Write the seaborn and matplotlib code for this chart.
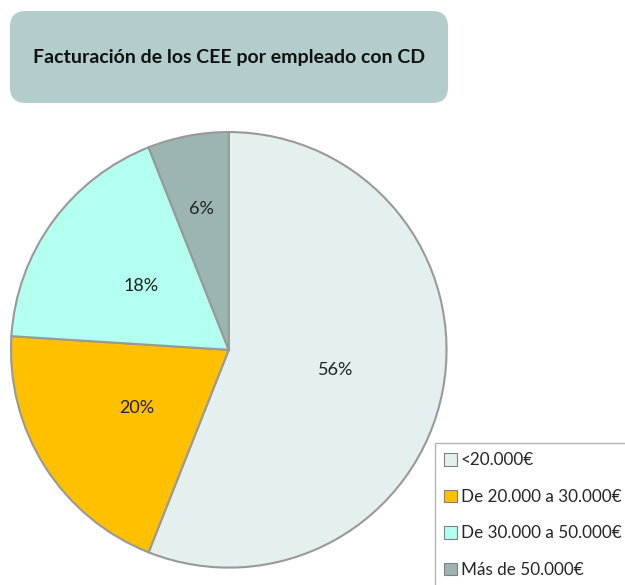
import matplotlib
matplotlib.use("Agg")
import matplotlib.pyplot as plt
from matplotlib.patches import FancyBboxPatch, Patch
import seaborn as sns
import numpy as np

categories = ["<20.000€", "De 20.000 a 30.000€", "De 30.000 a 50.000€", "Más de 50.000€"]
values = [56, 20, 18, 6]
colors = ["#e4f0ef", "#ffc000", "#b3fff0", "#9bb5b3"]
title = "Facturación de los CEE por empleado con CD"

sns.set_theme(style="white")
plt.rcParams['font.family'] = ['Lato', 'DejaVu Sans']

fig = plt.figure(figsize=(6.25, 5.85), dpi=100)
W, H = 625, 585

# Title box
box = FancyBboxPatch((10 / W, 1 - 103 / H), 438 / W, 92 / H,
                     boxstyle="round,pad=0,rounding_size=0.025",
                     transform=fig.transFigure, facecolor="#b3cdcc",
                     edgecolor="none", mutation_aspect=W / H)
fig.patches.append(box)
fig.text(229 / W, 1 - 58 / H, title, ha="center", va="center",
         fontsize=14, fontweight="bold", color="#111111")

ax = fig.add_axes([0.014, 0.026, 0.704, 0.752])
wedges, texts, autotexts = ax.pie(
    values, colors=colors, startangle=90, counterclock=False,
    autopct=lambda p: f"{p:.0f}%", pctdistance=0.5,
    wedgeprops=dict(edgecolor="#999999", linewidth=1.5),
    textprops=dict(fontsize=13, color="#222222"))
# small slice label further out
w = wedges[3]
mid = np.deg2rad((w.theta1 + w.theta2) / 2)
autotexts[3].set_position((0.66 * np.cos(mid), 0.66 * np.sin(mid)))
ax.set_xlim(-1.01, 1.01)
ax.set_ylim(-1.01, 1.01)
ax.set_aspect("equal")
ax.axis("off")

handles = [Patch(facecolor=c, edgecolor="#808080", linewidth=0.8) for c in colors]
leg = fig.legend(handles, categories, loc="upper left",
                 bbox_to_anchor=(435 / W, 1 - 443 / H), frameon=True,
                 fancybox=False, edgecolor="#a0a0a0", fontsize=12.3,
                 handlelength=0.75, handleheight=0.75, handletextpad=0.2,
                 labelspacing=1.2, borderpad=0.55, borderaxespad=0)
leg.get_frame().set_linewidth(1.0)

fig.savefig("out.png", dpi=100)
